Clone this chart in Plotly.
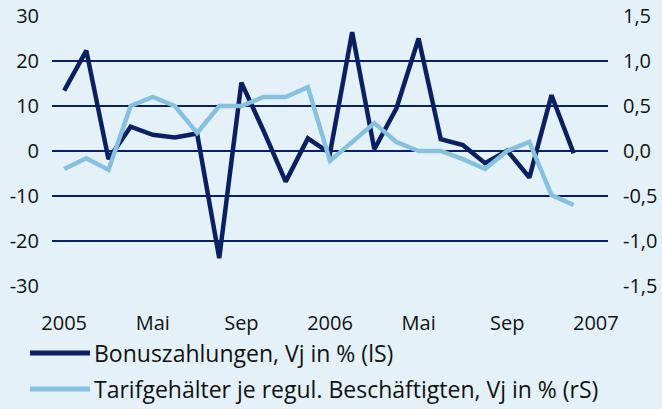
import plotly.graph_objects as go

months = list(range(24))  # Jan 2005 .. Dec 2006
bonus = [13.4, 22.3, -1.8, 5.4, 3.6, 3.0, 3.9, -23.8, 15.2, 4.5, -6.8, 2.8,
         -0.5, 26.4, 0.4, 9.5, 25.0, 2.6, 1.3, -2.7, 0.1, -5.9, 12.4, -0.5]
tarif = [-0.20, -0.08, -0.21, 0.50, 0.60, 0.50, 0.20, 0.50, 0.50, 0.60, 0.60, 0.71,
         -0.11, 0.10, 0.31, 0.10, 0.00, 0.00, -0.09, -0.20, 0.00, 0.10, -0.49, -0.60]
tick_pos = [0, 4, 8, 12, 16, 20, 24]
tick_text = ["2005", "Mai", "Sep", "2006", "Mai", "Sep", "2007"]
left_ticks = [30, 20, 10, 0, -10, -20, -30]
left_labels = ["30", "20", "10", "0", "-10", "-20", "-30"]
right_ticks = [1.5, 1.0, 0.5, 0.0, -0.5, -1.0, -1.5]
right_labels = ["1,5", "1,0", "0,5", "0,0", "-0,5", "-1,0", "-1,5"]
names = ["Bonuszahlungen, Vj in % (lS)",
         "Tarifgehälter je regul. Beschäftigten, Vj in % (rS)"]

NAVY = "#0b1f63"
LIGHT = "#86c1e0"
BG = "#e5f1f9"
FONT = "Open Sans"

fig = go.Figure()
fig.add_trace(go.Scatter(x=months, y=tarif, yaxis="y2", mode="lines",
                         line=dict(color=LIGHT, width=4.5), name=names[1], showlegend=False))
fig.add_trace(go.Scatter(x=months, y=bonus, mode="lines",
                         line=dict(color=NAVY, width=4.5), name=names[0], showlegend=False))

L, R, T, B = 52, 54, 16, 123
W, H = 662, 409
pw, ph = W - L - R, H - T - B

def px2paper(x, y):
    return (x - L) / pw, (H - B - y) / ph

for i, (col, ypx) in enumerate([(NAVY, 353), (LIGHT, 389)]):
    x0, y0 = px2paper(30, ypx)
    x1, _ = px2paper(90, ypx)
    fig.add_shape(type="line", xref="paper", yref="paper", x0=x0, x1=x1, y0=y0, y1=y0,
                  line=dict(color=col, width=5))
    tx, ty = px2paper(92, ypx)
    fig.add_annotation(xref="paper", yref="paper", x=tx, y=ty, text=names[i],
                       showarrow=False, xanchor="left", yanchor="middle",
                       font=dict(family=FONT, size=23, color="#111111"))

fig.update_layout(
    width=W, height=H,
    margin=dict(l=L, r=R, t=T, b=B, autoexpand=False),
    paper_bgcolor=BG, plot_bgcolor=BG,
    font=dict(family=FONT, size=20, color="#111111"),
    xaxis=dict(range=[-0.55, 24.55], tickmode="array", tickvals=tick_pos, ticktext=tick_text,
               showgrid=False, zeroline=False, showline=False, ticks="",
               ticklabelstandoff=23, tickfont=dict(size=20)),
    yaxis=dict(range=[-30, 30], tickmode="array", tickvals=left_ticks, ticktext=left_labels,
               showgrid=True, gridcolor=NAVY, gridwidth=2, zeroline=True, zerolinecolor=NAVY,
               zerolinewidth=2, ticks="", showline=False, ticklabelstandoff=12,
               tickfont=dict(size=20)),
    yaxis2=dict(range=[-1.5, 1.5], overlaying="y", side="right", tickmode="array",
                tickvals=right_ticks, ticktext=right_labels, showgrid=False, zeroline=False,
                ticks="", showline=False, ticklabelstandoff=14, tickfont=dict(size=20)),
)

fig.write_html("out.html", config={"displayModeBar": False},
               post_script="document.body.style.margin='0';document.body.style.overflow='hidden';")
